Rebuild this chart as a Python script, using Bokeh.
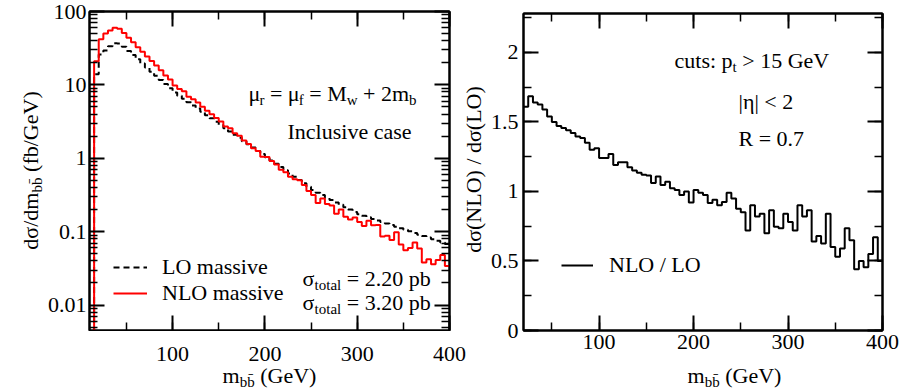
import math
from bokeh.plotting import figure
from bokeh.models import (Label, Legend, LegendItem, LinearAxis, LogAxis, FixedTicker,
                          SingleIntervalTicker, Range1d, CustomJSTickFormatter)
from bokeh.layouts import row, column
from bokeh.embed import file_html
from bokeh.resources import INLINE

FONT = "Liberation Serif"

# ---------------- data ----------------
# left panel: 5 GeV bins, lower edges 10 ... 395 GeV
mass_edges = list(range(10, 405, 5))
lo_massive = [0.001, 14,
              26, 29.5, 33.5, 37, 36.5, 33, 29, 25.5, 22.3, 19.6, 17.2, 15.1, 13.3, 11.7, 10.3, 9.0,
              7.9, 7.1, 6.45, 5.8, 5.25, 4.75, 4.3, 3.85, 3.5, 3.15, 2.85, 2.57, 2.32, 2.1, 1.9, 1.71, 1.55, 1.4, 1.26, 1.14,
              1.03, 0.93, 0.84, 0.76, 0.685, 0.62, 0.56, 0.505, 0.455, 0.41, 0.37, 0.34, 0.315, 0.29, 0.27, 0.25, 0.232, 0.215, 0.2, 0.186,
              0.173, 0.165, 0.157, 0.149, 0.142, 0.135, 0.129, 0.123, 0.117, 0.111, 0.106, 0.101, 0.096, 0.091, 0.087, 0.083, 0.079, 0.075, 0.071, 0.068]
nlo_massive = [0.001, 21,
               42, 50, 55, 60, 58, 51, 44, 38, 32.5, 28.2, 24.4, 21.1, 18.4, 15.8, 13.4, 11.8,
               9.8, 8.8, 8.2, 6.9, 6.35, 5.75, 5.05, 4.43, 3.97, 3.53, 3.18, 2.72, 2.57, 2.2, 2.03, 1.75, 1.57, 1.365, 1.26, 1.05,
               1.04, 0.92, 0.82, 0.70, 0.644, 0.558, 0.518, 0.50, 0.432, 0.359, 0.315, 0.245, 0.284, 0.238, 0.227, 0.175, 0.2, 0.16, 0.147, 0.156,
               0.135, 0.119, 0.141, 0.122, 0.123, 0.086, 0.088, 0.077, 0.098, 0.067, 0.056, 0.06, 0.071, 0.059, 0.038, 0.042, 0.036, 0.041, 0.048, 0.034]

# right panel: ratio NLO/LO, lower edges 20 ... 395 GeV
ratio_edges = list(range(20, 405, 5))
ratio_nlo_lo = [1.61, 1.685, 1.64, 1.625, 1.59, 1.54, 1.50, 1.47, 1.456, 1.44, 1.42, 1.395, 1.384, 1.35, 1.30, 1.31,
                1.24, 1.24, 1.27, 1.19, 1.21, 1.21, 1.175, 1.15, 1.135, 1.12, 1.115, 1.06, 1.107, 1.047, 1.07, 1.023, 1.01, 0.975, 1.0, 0.92,
                1.01, 0.99, 0.975, 0.917, 0.94, 0.90, 0.925, 0.99, 0.95, 0.875, 0.85, 0.72, 0.90, 0.82, 0.84, 0.70, 0.865, 0.746, 0.735, 0.84,
                0.78, 0.72, 0.90, 0.82, 0.865, 0.64, 0.68, 0.625, 0.84, 0.6, 0.53, 0.59, 0.735, 0.65, 0.44, 0.50, 0.455, 0.55, 0.67, 0.50]

y_major_left = [0.01, 0.1, 1, 10, 100]

# ---------------- helpers ----------------
W = {' ': 250, '(': 333, ')': 333, '/': 278, '.': 250, '=': 564, '+': 564, '>': 564, '<': 564, '|': 200,
     ':': 278, 'G': 722, 'L': 611, 'M': 889, 'N': 722, 'O': 722, 'R': 667, 'V': 722, 'a': 444, 'b': 500,
     'c': 444, 'd': 500, 'e': 444, 'f': 333, 'i': 278, 'l': 278, 'm': 778, 'n': 500, 'o': 500, 'p': 500,
     'r': 333, 's': 389, 't': 278, 'u': 500, 'v': 500, 'w': 722, 'μ': 500, 'σ': 550, 'η': 500, '\u0304': 0}
for d in "0123456789":
    W[d] = 500

MAIN, SUB = 22, 15


def twidth(s, size):
    return sum(W.get(c, 500) for c in s) * size / 1000.0


def lab(p, fl, fb, txt, X, Y, size=MAIN, align="left", angle=0.0):
    p.add_layout(Label(x=X - fl, y=fb - Y, x_units="screen", y_units="screen", text=txt,
                       text_font=FONT, text_font_size=f"{size}px", text_color="black",
                       text_align=align, text_baseline="alphabetic", angle=angle))


def chain(p, fl, fb, pieces, X, Y, center=False, drop=6):
    total = sum(twidth(t, SUB if s else MAIN) for t, s in pieces)
    x = X - total / 2 if center else X
    for t, s in pieces:
        sz = SUB if s else MAIN
        lead = len(t) - len(t.lstrip(' '))
        lab(p, fl, fb, t.strip(' '), x + lead * 250 * sz / 1000.0, Y + (drop if s else 0), sz)
        x += twidth(t, sz)


def vchain(p, fl, fb, pieces, X, Ycenter, shift=6):
    total = sum(twidth(t, SUB if s else MAIN) for t, s in pieces)
    y = Ycenter + total / 2
    for t, s in pieces:
        sz = SUB if s else MAIN
        lead = len(t) - len(t.lstrip(' '))
        lab(p, fl, fb, t.strip(' '), X + (shift if s else 0), y - lead * 250 * sz / 1000.0, sz,
            angle=math.pi / 2)
        y -= twidth(t, sz)


def style_axis(ax, labels=True):
    ax.axis_line_width = 2
    ax.axis_line_color = "black"
    ax.major_tick_in = 15
    ax.major_tick_out = 0
    ax.minor_tick_in = 8
    ax.minor_tick_out = 0
    ax.major_tick_line_width = 2
    ax.minor_tick_line_width = 1.5
    ax.major_tick_line_color = "black"
    ax.minor_tick_line_color = "black"
    ax.major_label_text_font = FONT
    ax.major_label_text_color = "black"
    ax.axis_label = None
    if labels:
        ax.major_label_text_font_size = f"{MAIN}px"
    else:
        ax.formatter = CustomJSTickFormatter(code="return ''")
        ax.major_label_text_font_size = "0px"
        ax.major_label_standoff = 0


def base_fig(width, height, x_range, y_range, ytype, mbl, mbr, mbt, mbb):
    p = figure(width=width, height=height, x_range=x_range, y_range=y_range, y_axis_type=ytype,
               output_backend="svg", toolbar_location=None,
               min_border_left=mbl, min_border_right=mbr, min_border_top=mbt, min_border_bottom=mbb)
    p.xgrid.visible = False
    p.ygrid.visible = False
    p.outline_line_color = "black"
    p.outline_line_width = 2
    p.background_fill_color = "white"
    p.border_fill_color = "white"
    return p


def text_fig(width, height):
    p = figure(width=width, height=height, x_range=Range1d(0, 1), y_range=Range1d(0, 1),
               x_axis_location=None, y_axis_location=None, min_border=0,
               output_backend="svg", toolbar_location=None)
    for g in p.grid:
        g.visible = False
    p.outline_line_color = None
    p.background_fill_color = "white"
    p.border_fill_color = "white"
    return p


# ---------------- left panel (canvas x 44..451, y 0..331) ----------------
FL1, FB1 = 89, 330
x_range1 = Range1d(10, 400)
p1 = base_fig(407, 331, x_range1, Range1d(0.0045, 100), "log", 45, 2, 11, 1)

xt1 = SingleIntervalTicker(interval=100, num_minor_ticks=2)
yt1 = FixedTicker(ticks=y_major_left,
                  minor_ticks=[m * 10.0 ** e for e in range(-3, 2) for m in range(2, 10)])
p1.xaxis.ticker = xt1
p1.yaxis.ticker = yt1
p1.yaxis.formatter = CustomJSTickFormatter(code="return String(Number(tick.toPrecision(1)))")
style_axis(p1.xaxis[0], False)      # tick labels of this axis are drawn by the strip below
style_axis(p1.yaxis[0])
p1.yaxis.major_label_standoff = 3
top1 = LinearAxis(ticker=xt1)
right1 = LogAxis(ticker=yt1)
style_axis(top1, False)
style_axis(right1, False)
p1.add_layout(top1, "above")
p1.add_layout(right1, "right")

lo_r = p1.step(x=mass_edges + [400], y=lo_massive + [lo_massive[-1]], mode="after",
               line_color="black", line_width=2, line_dash="6 4")
nlo_r = p1.step(x=mass_edges + [400], y=nlo_massive + [nlo_massive[-1]], mode="after",
                line_color="#ff0000", line_width=2)

leg1 = Legend(items=[LegendItem(label="LO massive", renderers=[lo_r]),
                     LegendItem(label="NLO massive", renderers=[nlo_r])],
              location=(24, 24), glyph_width=34, glyph_height=24, label_height=24,
              label_standoff=15, spacing=0, padding=0, margin=0,
              border_line_alpha=0, background_fill_alpha=0,
              label_text_font=FONT, label_text_font_size=f"{MAIN}px", label_text_color="black")
p1.add_layout(leg1)

chain(p1, FL1, FB1, [("μ", 0), ("r", 1), (" = μ", 0), ("f", 1), (" = M", 0), ("w", 1),
                     (" + 2m", 0), ("b", 1)], 332, 93, center=True)
lab(p1, FL1, FB1, "Inclusive case", 349, 131, align="center")
chain(p1, FL1, FB1, [("σ", 0), ("total", 1), (" = 2.20 pb", 0)], 302, 278)
chain(p1, FL1, FB1, [("σ", 0), ("total", 1), (" = 3.20 pb", 0)], 302, 302)

# strip under the left panel (canvas x 44..487, y 331..390): x tick labels + x title
strip1 = figure(width=443, height=59, x_range=x_range1, y_range=Range1d(0, 1),
                x_axis_location="above", y_axis_location=None,
                min_border_left=45, min_border_right=38, min_border_top=30, min_border_bottom=0,
                output_backend="svg", toolbar_location=None)
for g in strip1.grid:
    g.visible = False
strip1.outline_line_color = None
strip1.border_fill_color = "white"
strip1.background_fill_color = "white"
sx = strip1.xaxis[0]
sx.ticker = xt1
sx.axis_line_color = None
sx.major_tick_line_color = None
sx.minor_tick_line_color = None
sx.major_tick_in = 0
sx.major_tick_out = 0
sx.minor_tick_in = 0
sx.minor_tick_out = 0
sx.major_label_standoff = 1
sx.major_label_text_font = FONT
sx.major_label_text_font_size = f"{MAIN}px"
sx.major_label_text_color = "black"
chain(strip1, 89, 390, [("m", 0), ("bb\u0304", 1), (" (GeV)", 0)], 269, 375, center=True)

# title of the ratio panel (canvas x 451..487, y 0..331)
ytf2 = text_fig(36, 331)
lab(ytf2, 451, 331, "dσ(NLO) / dσ(LO)", 473, 170, align="center", angle=math.pi / 2)

# ---------------- right panel (canvas x 487..901, y 0..359) ----------------
FL2, FB2 = 522, 330
p2 = base_fig(414, 359, Range1d(20, 400), Range1d(0, 2.28), "linear", 35, 19, 13, 29)
xt2 = SingleIntervalTicker(interval=100, num_minor_ticks=2)
yt2 = SingleIntervalTicker(interval=0.5, num_minor_ticks=2)
p2.xaxis.ticker = xt2
p2.yaxis.ticker = yt2
p2.yaxis.formatter = CustomJSTickFormatter(code="return String(tick)")
style_axis(p2.xaxis[0])
style_axis(p2.yaxis[0])
p2.xaxis.major_label_standoff = 4
p2.yaxis.major_label_standoff = 5
top2 = LinearAxis(ticker=xt2)
right2 = LinearAxis(ticker=yt2)
style_axis(top2, False)
style_axis(right2, False)
p2.add_layout(top2, "above")
p2.add_layout(right2, "right")

rat_r = p2.step(x=ratio_edges + [400], y=ratio_nlo_lo + [ratio_nlo_lo[-1]], mode="after",
                line_color="black", line_width=2)
leg2 = Legend(items=[LegendItem(label="NLO / LO", renderers=[rat_r])],
              location=(38, 52), glyph_width=32, glyph_height=24, label_height=24,
              label_standoff=16, spacing=0, padding=0, margin=0,
              border_line_alpha=0, background_fill_alpha=0,
              label_text_font=FONT, label_text_font_size=f"{MAIN}px", label_text_color="black")
p2.add_layout(leg2)

chain(p2, FL2, FB2, [("cuts: p", 0), ("t", 1), (" > 15 GeV", 0)], 673, 60)
lab(p2, FL2, FB2, "|η| < 2", 737, 101)
lab(p2, FL2, FB2, "R = 0.7", 737, 138)

xtf2 = text_fig(414, 31)         # canvas x 487..901, y 359..390
chain(xtf2, 487, 390, [("m", 0), ("bb\u0304", 1), (" (GeV)", 0)], 698, 375, center=True)

# ---------------- left y title (canvas x 0..44) ----------------
ytf1 = text_fig(44, 390)
vchain(ytf1, 0, 390, [("dσ/dm", 0), ("bb\u0304", 1), (" (fb/GeV)", 0)], 30, 170)

layout = row(ytf1, column(row(p1, ytf2), strip1), column(p2, xtf2))
open("out.html", "w").write(file_html(layout, INLINE))
